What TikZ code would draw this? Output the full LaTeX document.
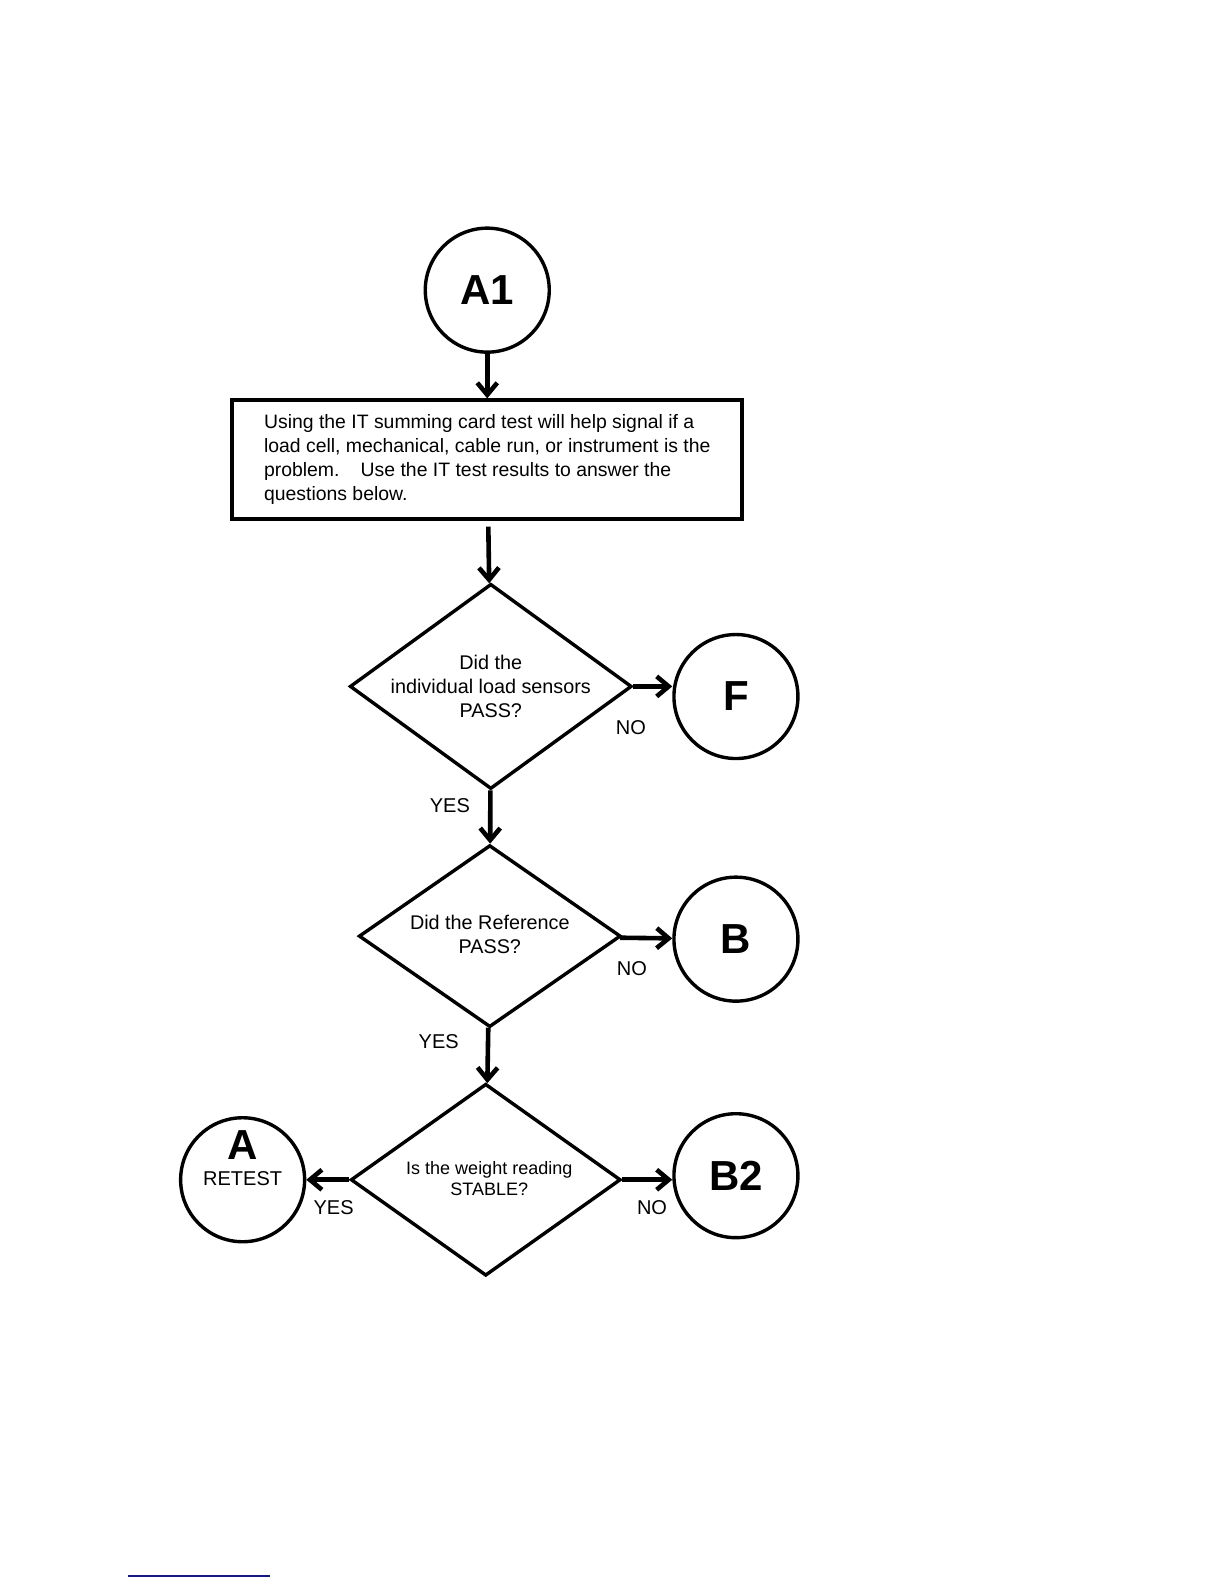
\documentclass[tikz,border=0pt]{standalone}
\usepackage{fontspec}
\setmainfont{Liberation Sans}
\usetikzlibrary{shapes.geometric,arrows.meta}

\definecolor{rulenavy}{RGB}{20,24,128}

\tikzset{
  terminal/.style={circle, draw, line width=1.7pt, minimum size=62pt, inner sep=0pt,
    font=\fontsize{21}{21}\selectfont\bfseries},
  infobox/.style={rectangle, draw, line width=2pt, minimum width=254.8pt, minimum height=59.1pt,
    align=left, inner sep=0pt, font=\fontsize{9.7}{12}\selectfont},
  decision/.style={diamond, draw, line width=1.7pt, inner sep=0pt},
  question/.style={align=center, inner sep=0pt, font=\fontsize{9.9}{12}\selectfont},
  answer/.style={inner sep=0pt, font=\fontsize{10}{12}\selectfont},
  flow/.style={line width=2.3pt, -{Straight Barb[length=6pt,width=10pt]}}
}

\begin{document}
\begin{tikzpicture}[x=0.5055pt,y=-0.5055pt]
  \useasboundingbox (0,0) rectangle (1210.7,1566.9);

  % Start and explanation
  \node[terminal] (a1) at (482,287) {A1};
  \node[infobox] (intro) at (482,454.5) {Using the IT summing card test will help signal if a\\
    load cell, mechanical, cable run, or instrument is the\\
    problem.\hspace{7pt} Use the IT test results to answer the\\
    questions below.};

  % Decisions
  \node[decision, minimum width=141pt, minimum height=102.6pt] (sensors) at (485.5,679) {};
  \node[question] (sensorsq) at (sensors.center) {Did the\\individual load sensors\\PASS?};
  \node[decision, minimum width=131pt, minimum height=91pt] (reference) at (484.5,926) {};
  \node[question] (referenceq) at (484.5,924) {Did the Reference\\PASS?};
  \node[decision, minimum width=135pt, minimum height=96pt] (stable) at (480.5,1167) {};
  \node[question, font=\fontsize{9}{10.5}\selectfont] (stableq) at (484,1165.5) {Is the weight reading\\STABLE?};

  % Off-page connectors
  \node[terminal] (f) at (728,689) {F};
  \node[terminal] (b) at (728,929) {B};
  \node[terminal] (b2) at (728,1163) {B2};
  \node[terminal] (retest) at (240,1167) {};
  \node[inner sep=0pt, font=\fontsize{21}{21}\selectfont\bfseries] (retesta) at (240,1133) {A};
  \node[answer] (retestt) at (240,1166) {RETEST};

  % Connectors
  \draw[flow] (a1) -- (intro);
  \draw[flow, shorten <=3pt] (intro) -- (sensors);
  \draw[flow] (sensors.east) -- (sensors.east -| f.west);
  \draw[flow] (sensors) -- (reference);
  \draw[flow] (reference) -- (b);
  \draw[flow] (reference) -- (stable);
  \draw[flow] (stable.west) -- (stable.west -| retest.east);
  \draw[flow] (stable.east) -- (stable.east -| b2.west);

  % Answers
  \node[answer] (sensorsno) at (624,720) {NO};
  \node[answer] (sensorsyes) at (445,797) {YES};
  \node[answer] (referenceno) at (625,958) {NO};
  \node[answer] (referenceyes) at (434,1030) {YES};
  \node[answer] (stableyes) at (330,1195) {YES};
  \node[answer] (stableno) at (645,1195) {NO};

  % Footnote rule
  \draw[rulenavy, line width=1pt] (127,1559) -- (267,1559);
\end{tikzpicture}
\end{document}
